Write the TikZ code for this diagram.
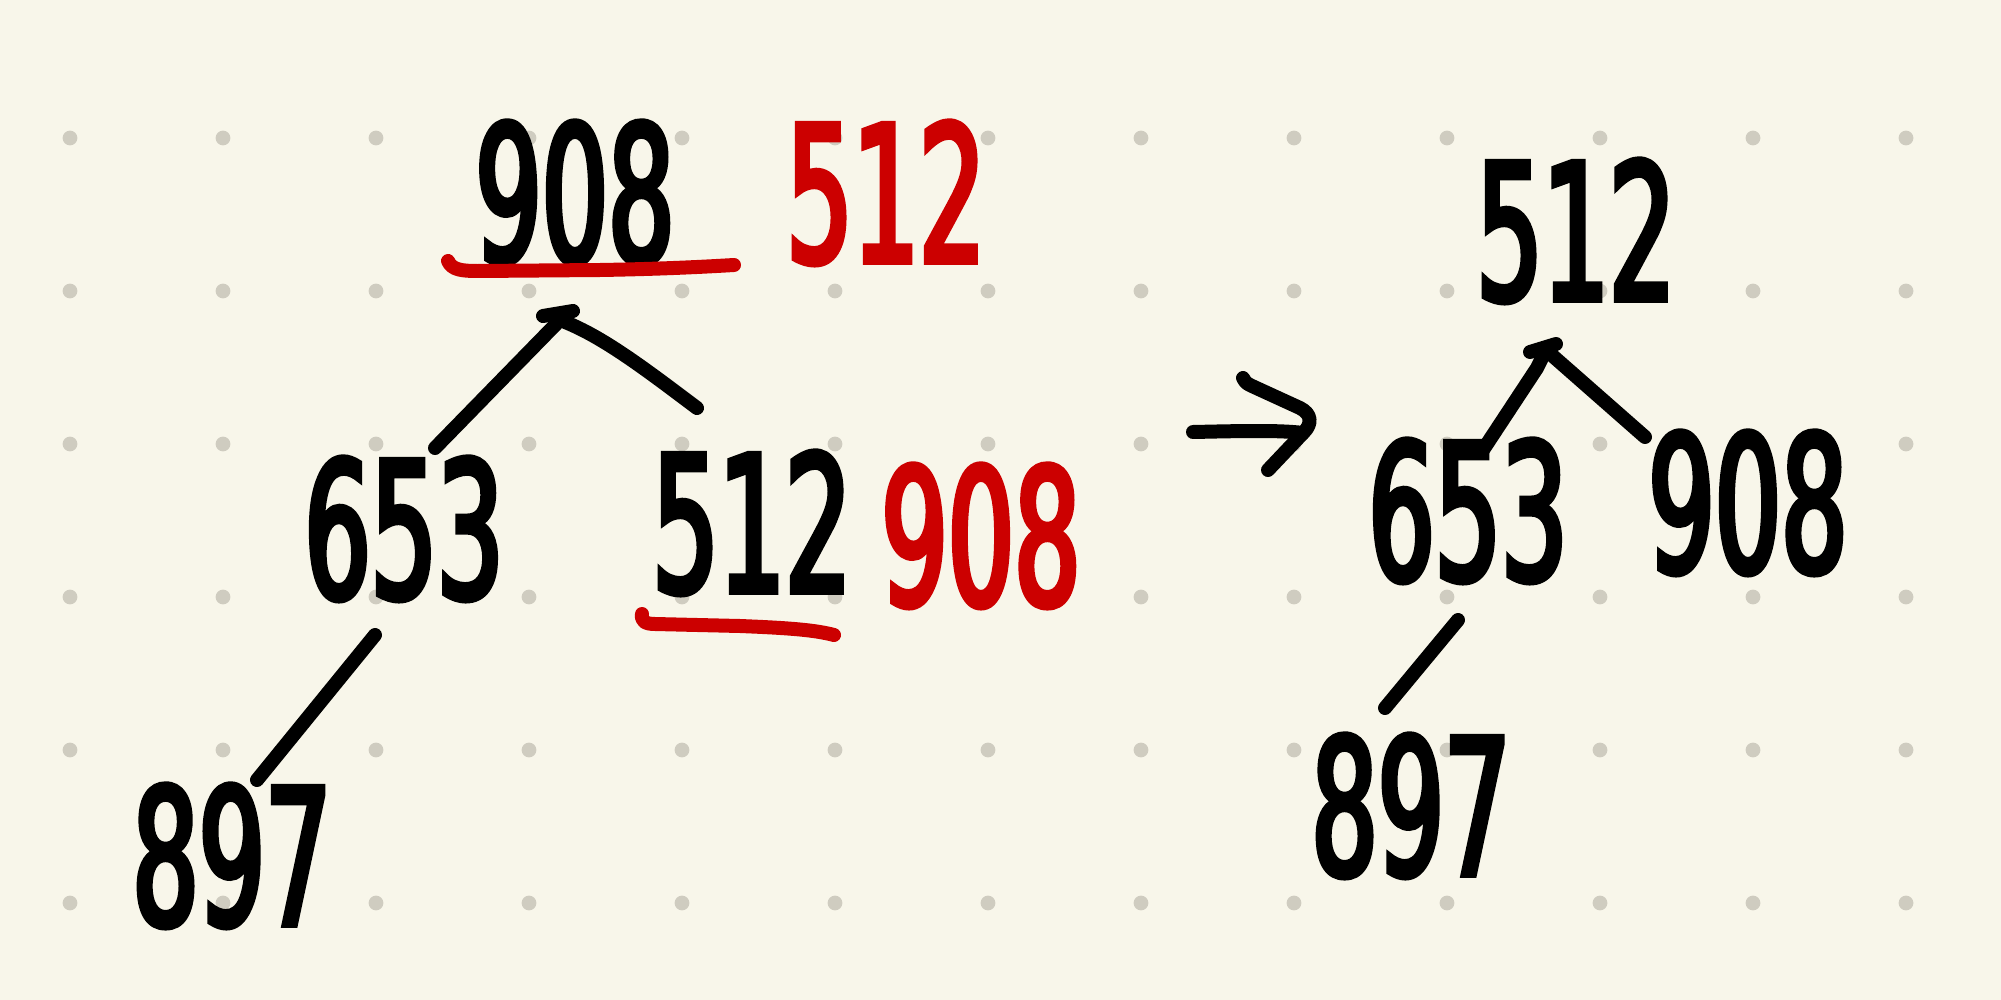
\documentclass[tikz,border=0pt]{standalone}
\usepackage{fontspec}
\newfontfamily\hand[FakeStretch=0.55,FakeBold=3]{DejaVu Sans}
\definecolor{paper}{HTML}{F8F6EA}
\definecolor{dotc}{HTML}{CFCCC0}
\definecolor{ink}{HTML}{000000}
\definecolor{redink}{HTML}{CC0000}
\begin{document}
\begin{tikzpicture}[x=0.02cm,y=-0.02cm,
  num/.style={anchor=base, inner sep=0pt, font=\hand\fontsize{108}{120}\selectfont, text=ink},
  rednum/.style={num, text=redink},
  stroke/.style={line width=0.28cm, line cap=round, line join=round, draw=ink},
  redstroke/.style={stroke, draw=redink}]
\fill[paper] (0,0) rectangle (2001,1000);
\useasboundingbox (0,0) rectangle (2001,1000);
\foreach \i in {0,...,12} \foreach \j in {0,...,5} \fill[dotc] (70+153*\i, 138+153*\j) circle (4.2pt);

% left tree
\node[num] (r1) at (575,262) {908};
\node[rednum] (r1r) at (886,262) {512};
\node[num] (a653) at (404,598) {653};
\node[num] (a512) at (752,592) {512};
\node[rednum] (a908r) at (981,605) {908};
\node[num] (a897) at (232,925) {897};

% right tree
\node[num] (b512) at (1576,300) {512};
\node[num] (b653) at (1468,580) {653};
\node[num] (b908) at (1748,572) {908};
\node[num] (b897) at (1411,875) {897};

% connector end points
\coordinate (la) at (560,320);
\coordinate (laL) at (435,448);
\coordinate (laR) at (697,408);
\coordinate (lb) at (375,635);
\coordinate (lbE) at (257,780);
\coordinate (ra) at (1546,350);
\coordinate (raL) at (1481,453);
\coordinate (raR) at (1645,437);
\coordinate (rb) at (1458,620);
\coordinate (rbE) at (1385,708);

% left tree connectors
\draw[stroke] (543,316) -- (573,311);
\draw[stroke] (la) -- (laL);
\draw[stroke] (la) .. controls (600,335) and (640,365) .. (laR);
\draw[stroke] (lb) -- (lbE);

% red underlines
\draw[redstroke] (448,261) .. controls (452,270) and (462,271) .. (478,271) -- (600,270) .. controls (660,269) and (700,267) .. (734,265);
\draw[redstroke] (642,614) .. controls (641,621) and (645,624) .. (655,624) -- (740,626) .. controls (790,628) and (815,630) .. (834,635);

% arrow
\coordinate (arS) at (1193,432);
\coordinate (arT) at (1307,418);
\draw[stroke] (arS) .. controls (1240,431) and (1280,430) .. (1303,433);
\draw[stroke] (1243,378) .. controls (1246,383) .. (1252,386) -- (1300,408) .. controls (1312,414) and (1312,424) .. (1304,432) -- (1268,470);

% right tree connectors
\draw[stroke] (1530,352) -- (1556,344);
\draw[stroke] (ra) .. controls (1542,358) .. (1537,368) -- (raL);
\draw[stroke] (ra) -- (raR);
\draw[stroke] (rb) -- (rbE);
\end{tikzpicture}
\end{document}
